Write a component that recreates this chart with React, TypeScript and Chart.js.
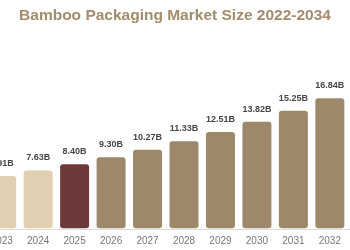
import React, { useEffect, useRef } from "react";
import { Chart, registerables } from "chart.js";

Chart.register(...registerables);

const years = ["2022", "2023", "2024", "2025", "2026", "2027", "2028", "2029", "2030", "2031", "2032", "2033", "2034"];
const marketSize = [6.26, 6.91, 7.63, 8.4, 9.3, 10.27, 11.33, 12.51, 13.82, 15.25, 16.84, 18.59, 20.53];
const barKinds = ["past", "past", "past", "current", "forecast", "forecast", "forecast", "forecast", "forecast", "forecast", "forecast", "forecast", "forecast"];

const FONT = "'Liberation Sans', Arial, Helvetica, sans-serif";
const kindColor: Record<string, string> = {
  past: "#e0cfb1",
  current: "#6c393a",
  forecast: "#9d896a",
};

const valueLabels = {
  id: "valueLabels",
  afterDatasetsDraw(chart: Chart) {
    const { ctx } = chart;
    const meta = chart.getDatasetMeta(0);
    ctx.save();
    ctx.font = `bold 9px ${FONT}`;
    ctx.fillStyle = "#474747";
    ctx.textAlign = "center";
    ctx.textBaseline = "alphabetic";
    meta.data.forEach((bar: any, i: number) => {
      ctx.fillText(`${marketSize[i].toFixed(2)}B`, bar.x, bar.y - 9);
    });
    ctx.restore();
  },
};

export default function App() {
  const canvasRef = useRef<HTMLCanvasElement>(null);

  useEffect(() => {
    if (!canvasRef.current) return;
    const chart = new Chart(canvasRef.current, {
      type: "bar",
      data: {
        labels: years,
        datasets: [
          {
            data: marketSize,
            backgroundColor: barKinds.map((k) => kindColor[k]),
            borderColor: "rgba(255,255,255,0.55)",
            borderWidth: 1,
            borderRadius: 4,
            borderSkipped: false,
            categoryPercentage: 1,
            barPercentage: 0.85,
          },
        ],
      },
      options: {
        animation: false,
        responsive: true,
        maintainAspectRatio: false,
        layout: { padding: { left: 0, right: 0, top: 0, bottom: 0.6 } },
        plugins: {
          legend: { display: false },
          tooltip: { enabled: false },
          title: {
            display: true,
            text: "Bamboo Packaging Market Size 2022-2034",
            color: "#a18c6c",
            font: { family: FONT, size: 15.5, weight: "bold" },
            padding: { top: 6, bottom: 18 },
          },
        },
        scales: {
          x: {
            grid: { display: false, drawTicks: false },
            border: { display: true, color: "#dddddd" },
            ticks: { color: "#777777", font: { family: FONT, size: 10 }, padding: 5.6 },
          },
          y: {
            display: true,
            position: "left",
            min: 0,
            max: 23.8,
            grid: { display: false, drawTicks: false },
            border: { display: false },
            ticks: { display: false },
            afterFit: (scale: any) => {
              scale.width = 18;
            },
          },
        },
      },
      plugins: [valueLabels],
    });
    return () => chart.destroy();
  }, []);

  return (
    <div style={{ position: "fixed", left: 0, top: 0, width: 350, height: 250, overflow: "hidden", background: "#ffffff" }}>
      <div style={{ position: "absolute", left: -71, top: 0, width: 492, height: 253 }}>
        <canvas ref={canvasRef} />
      </div>
    </div>
  );
}
